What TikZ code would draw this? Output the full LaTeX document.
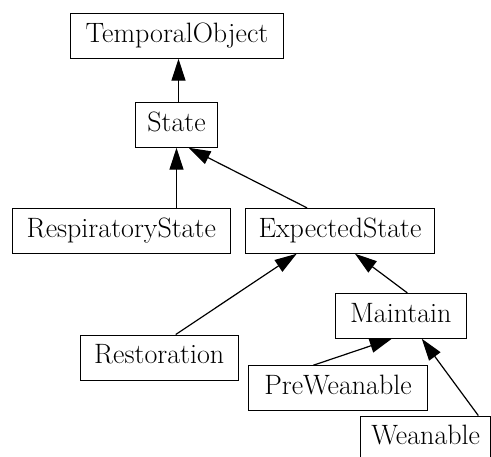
\documentclass[tikz,border=0pt]{standalone}
\usetikzlibrary{arrows.meta}
\begin{document}
\begin{tikzpicture}[x=1pt,y=-1pt,
  cls/.style={draw,line width=0.9pt,inner sep=0pt,minimum height=45pt,
    text height=19pt,text depth=6pt,align=center,
    font=\fontsize{28}{32}\selectfont},
  isa/.style={line width=1.2pt,-{Triangle[length=22pt,width=14pt]}}]
\useasboundingbox (0,0) rectangle (491,457);
\clip (0,0) rectangle (491,457);
\node[cls,minimum width=212.6pt] (to) at (177,35.8) {TemporalObject};
\node[cls,minimum width=81.7pt] (st) at (176.5,124.8) {State};
\node[cls,minimum width=217.3pt] (rs) at (121.3,230.8) {RespiratoryState};
\node[cls,minimum width=188.7pt] (es) at (340,230.8) {ExpectedState};
\node[cls,minimum width=158.3pt] (re) at (159.2,357.5) {Restoration};
\node[cls,minimum width=130.3pt] (ma) at (400.8,315.8) {Maintain};
\node[cls,minimum width=179.4pt] (pw) at (338,388.2) {PreWeanable};
\node[cls,minimum width=130pt] (we) at (425.7,438.5) {Weanable};
\draw[isa] ([xshift=2pt]st.north) -- ([xshift=2pt]st.north |- to.south);
\draw[isa] (rs.north -| st.south) -- (st.south);
\draw[isa] ([xshift=-33pt]es.north) -- ([xshift=12pt]st.south);
\draw[isa] ([xshift=16.5pt]re.north) -- ([xshift=-43.3pt]es.south);
\draw[isa] ([xshift=6.5pt]ma.north) -- ([xshift=15pt]es.south);
\draw[isa] ([xshift=-24.7pt]pw.north) -- ([xshift=-9pt]ma.south);
\draw[isa] ([xshift=52.6pt]we.north) -- ([xshift=21pt]ma.south);
\end{tikzpicture}
\end{document}
